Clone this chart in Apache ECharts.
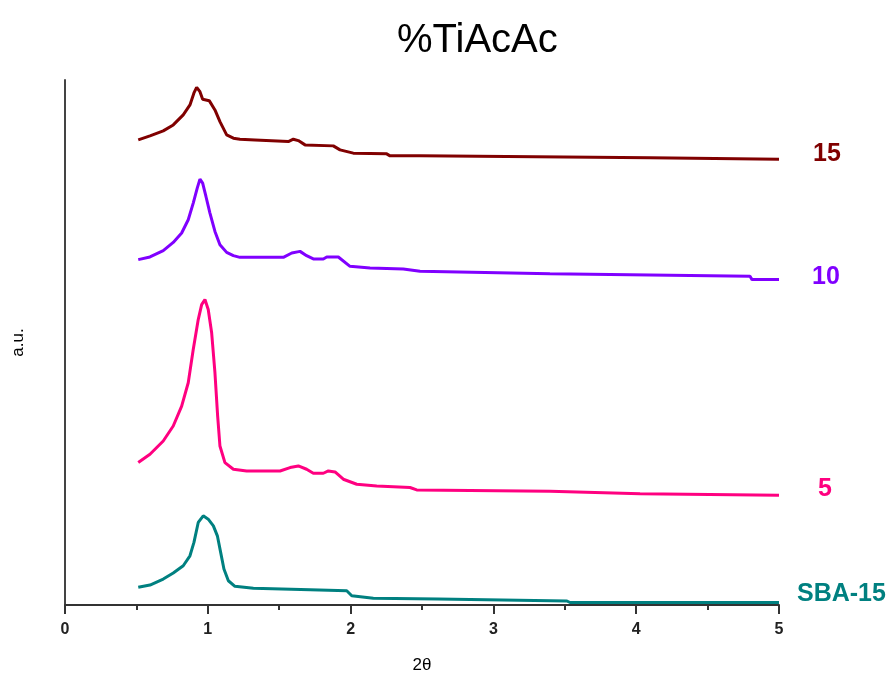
<!DOCTYPE html>
<html>
<head>
<meta charset="utf-8">
<script src="https://cdn.jsdelivr.net/npm/echarts@6/dist/echarts.min.js"></script>
<style>html,body{margin:0;padding:0;background:#fff}#c{width:893px;height:679px}</style>
</head>
<body>
<div id="c"></div>
<script>
// ---- data (x = 2θ, y = arbitrary units) ----
const names = ['15', '10', '5', 'SBA-15'];
const colors = ['#800000', '#8000ff', '#ff0080', '#008080'];
const xTicks = [0, 1, 2, 3, 4, 5];

const x15 = [0.513,0.595,0.688,0.758,0.828,0.875,0.903,0.922,0.945,0.964,1.010,1.050,1.085,1.132,1.179,1.225,1.331,1.342,1.564,1.599,1.634,1.681,1.879,1.926,2.019,2.253,2.276,2.486,4.097,5.0];
const y15 = [466,470,475,481,491,501,513,518.7,514.3,506.7,505.3,496,484.3,471,467.7,466.7,466,464.3,464.3,466.7,465.3,461,460,456,452.7,452,450,450,448,446.5];

const x10 = [0.513,0.595,0.688,0.758,0.817,0.863,0.898,0.926,0.945,0.964,0.987,1.015,1.050,1.085,1.132,1.179,1.225,1.529,1.588,1.646,1.692,1.739,1.809,1.833,1.914,1.996,2.136,2.369,2.486,3.396,4.797,4.811,5.0];
const y10 = [346,348.7,355,363.3,372.7,386,402.7,417.7,426.7,422.7,409.3,392.7,374.3,361,353.3,350,348.3,348.3,352.7,354.3,350,346.7,346.7,348.7,348.7,339.3,337.7,336.7,334.3,332,329.3,326,326];

const x5 = [0.513,0.595,0.688,0.758,0.817,0.863,0.898,0.933,0.957,0.980,1.003,1.027,1.050,1.069,1.085,1.120,1.179,1.272,1.506,1.576,1.634,1.692,1.739,1.809,1.844,1.891,1.949,2.043,2.183,2.416,2.463,3.396,4.027,5.0];
const y5 = [142.7,151,164.3,179.3,199.3,222.7,256,286,301,306,296,272.7,232.7,189.3,159.3,142.7,136,134.3,134.3,137.7,139.3,136,132,132,134.3,133.3,126,121,119.3,117.7,115.3,114,111.5,110];

const xSBA = [0.513,0.595,0.688,0.758,0.828,0.875,0.903,0.933,0.968,1.003,1.039,1.067,1.090,1.113,1.144,1.190,1.319,1.331,1.716,1.727,1.973,2.008,2.159,2.612,2.626,3.515,3.536,5.0];
const ySBA = [17.7,20,26,32,39.3,49.3,62.7,82.7,89.3,86,79.3,69.3,52.7,36,24.3,18.7,16.7,15.3,15.3,14.3,14.3,9.3,6.7,6,4,4,2.5,2.5];

const xs = [x15, x10, x5, xSBA];
const ys = [y15, y10, y5, ySBA];
const labelOffsets = [[34, -5], [33, -3], [39, -6], [18, -8]];

const chart = echarts.init(document.getElementById('c'), null, {renderer: 'canvas'});
const series = names.map((n, i) => ({
  name: n,
  type: 'line',
  data: xs[i].map((x, j) => [x, ys[i][j]]),
  showSymbol: false,
  symbol: 'none',
  lineStyle: {color: colors[i], width: 3},
  itemStyle: {color: colors[i]},
  endLabel: {
    show: true,
    formatter: n,
    color: colors[i],
    fontFamily: 'Liberation Sans, Arial, sans-serif',
    fontWeight: 'bold',
    fontSize: 25,
    distance: 0,
    offset: labelOffsets[i]
  }
}));

chart.setOption({
  animation: false,
  backgroundColor: '#fff',
  title: {
    text: '%TiAcAc',
    left: 392,
    top: 16,
    textStyle: {fontFamily: 'Liberation Sans, Arial, sans-serif', fontSize: 40, fontWeight: 'normal', color: '#000'}
  },
  grid: {left: 65, right: 114, top: 80, bottom: 73, containLabel: false},
  xAxis: {
    type: 'value',
    min: xTicks[0],
    max: xTicks[xTicks.length - 1],
    interval: 1,
    name: '2θ',
    nameLocation: 'middle',
    nameGap: 52,
    nameTextStyle: {fontFamily: 'Liberation Sans, Arial, sans-serif', fontSize: 17, color: '#000'},
    axisLine: {show: true, lineStyle: {color: '#333', width: 2}},
    axisTick: {show: true, inside: false, length: 9, lineStyle: {color: '#333', width: 2}},
    minorTick: {show: true, splitNumber: 2, length: 5, lineStyle: {color: '#333', width: 2}},
    axisLabel: {fontFamily: 'Liberation Sans, Arial, sans-serif', fontWeight: 'bold', fontSize: 16, color: '#222', margin: 17},
    splitLine: {show: false}
  },
  yAxis: {
    type: 'value',
    min: 0,
    max: 526,
    name: 'a.u.',
    nameLocation: 'middle',
    nameGap: 38,
    nameRotate: 90,
    nameTextStyle: {fontFamily: 'Liberation Sans, Arial, sans-serif', fontSize: 17, color: '#000'},
    axisLine: {show: true, lineStyle: {color: '#444', width: 2}},
    axisTick: {show: false},
    axisLabel: {show: false},
    splitLine: {show: false}
  },
  series: series
});
</script>
</body>
</html>
